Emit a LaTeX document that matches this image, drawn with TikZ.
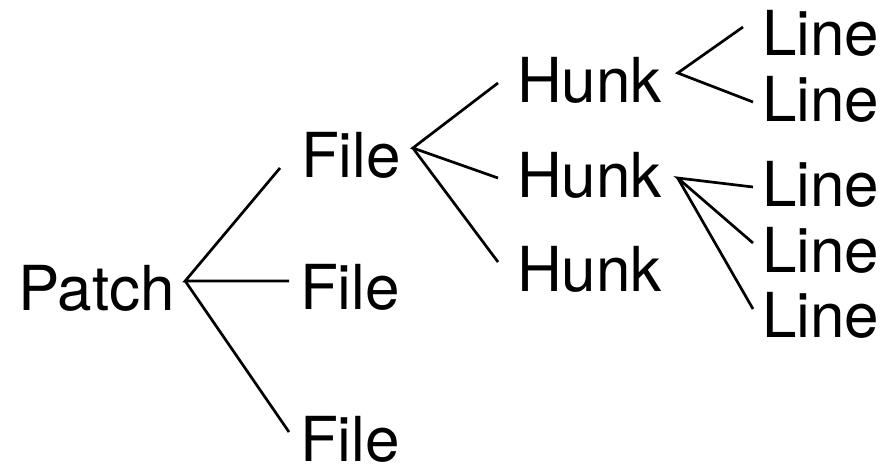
\documentclass[tikz,border=0pt]{standalone}
\usepackage{fontspec}
\setmainfont{TeX Gyre Heros}
\begin{document}
\begin{tikzpicture}[x=1pt,y=-1pt,
  lbl/.style={anchor=base west,inner sep=0pt,outer sep=0pt,font=\fontsize{62}{70}\selectfont},
  edge/.style={line width=2.7pt,line cap=butt}]
\useasboundingbox (0,0) rectangle (888,463);
% labels of the tree
\node[lbl] (patch) at (18,310) {Patch};
\node[lbl] (file1) at (301,177) {File};
\node[lbl] (file2) at (300,309) {File};
\node[lbl] (file3) at (300,461) {File};
\node[lbl] (hunk1) at (517,102) {Hunk};
\node[lbl] (hunk2) at (517,197) {Hunk};
\node[lbl] (hunk3) at (517,291) {Hunk};
\node[lbl] (line1) at (762,55) {Line};
\node[lbl] (line2) at (762,121) {Line};
\node[lbl] (line3) at (762,206) {Line};
\node[lbl] (line4) at (762,272) {Line};
\node[lbl] (line5) at (762,337) {Line};
% fork points and branch ends
\coordinate (patch-o) at ([shift={(10.5,-29)}]patch.base east);
\coordinate (file1-o) at ([shift={(12,-29)}]file1.base east);
\coordinate (hunk1-o) at ([shift={(16,-29)}]hunk1.base east);
\coordinate (hunk2-o) at ([shift={(16,-19)}]hunk2.base east);
\coordinate (file1-i) at ([shift={(-21,-9)}]file1.base west);
\coordinate (file2-i) at ([shift={(-11,-28)}]file2.base west);
\coordinate (file3-i) at ([shift={(-11,-29)}]file3.base west);
\coordinate (hunk1-i) at ([shift={(-19,-19)}]hunk1.base west);
\coordinate (hunk2-i) at ([shift={(-19,-19)}]hunk2.base west);
\coordinate (hunk3-i) at ([shift={(-19,-29)}]hunk3.base west);
\coordinate (line1-i) at ([shift={(-19,-28)}]line1.base west);
\coordinate (line2-i) at ([shift={(-9,-19)}]line2.base west);
\coordinate (line3-i) at ([shift={(-9,-19)}]line3.base west);
\coordinate (line4-i) at ([shift={(-9,-29)}]line4.base west);
\coordinate (line5-i) at ([shift={(-9,-28)}]line5.base west);
% branches
\draw[edge] (file1-i) -- (patch-o) -- (file2-i);
\draw[edge] (patch-o) -- (file3-i);
\draw[edge] (hunk1-i) -- (file1-o) -- (hunk2-i);
\draw[edge] (file1-o) -- (hunk3-i);
\draw[edge] (line1-i) -- (hunk1-o) -- (line2-i);
\draw[edge] (line3-i) -- (hunk2-o) -- (line4-i);
\draw[edge] (hunk2-o) -- (line5-i);
\end{tikzpicture}
\end{document}
